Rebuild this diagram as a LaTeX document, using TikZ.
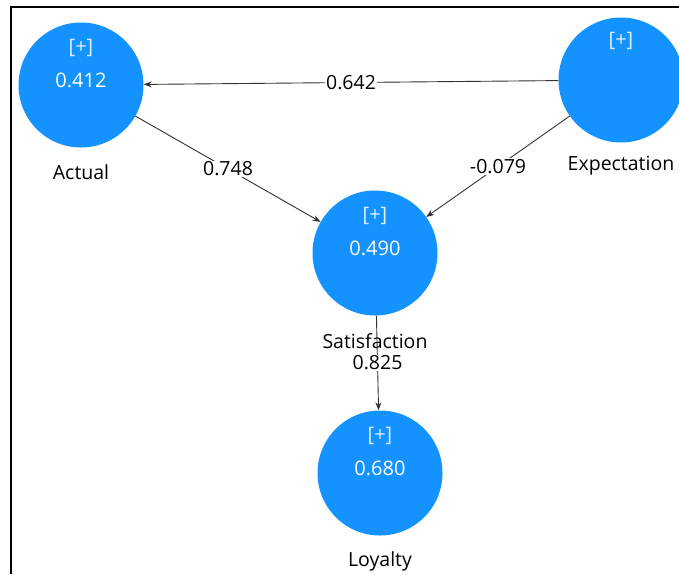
\documentclass[tikz,border=0pt]{standalone}
\usepackage{fontspec}
\setmainfont{Open Sans}
\usetikzlibrary{arrows.meta}
\definecolor{lvblue}{RGB}{20,146,255}
\begin{document}
\begin{tikzpicture}[x=1pt,y=-1pt,
  lv/.style={circle,fill=lvblue,minimum size=125pt,inner sep=0pt},
  plustxt/.style={text=white!85!lvblue,font=\fontsize{20}{23}\selectfont,inner sep=0pt},
  valtxt/.style={text=white,font=\fontsize{20}{23}\selectfont,inner sep=0pt},
  lvname/.style={font=\fontsize{19.5}{23}\selectfont,text=black,inner sep=0pt},
  link/.style={draw=black!80,line width=0.9pt,-{Stealth[length=8pt,width=6pt]}},
  coef/.style={fill=white,inner sep=1pt,font=\fontsize{19.5}{23}\selectfont}]
\useasboundingbox (0,0) rectangle (679,574);
\draw[line width=1.6pt] (11,574) -- (11,7) -- (679,7);
% latent variables
\node[lv] (act) at (81,85) {};
\node[lv] (exp) at (621,80) {};
\node[lv] (sat) at (375,253) {};
\node[lv] (loy) at (380,473) {};
% inner texts
\node[plustxt] (actp) at (81,48) {[+]};
\node[valtxt] (actv) at (81,80) {0.412};
\node[plustxt] (expp) at (621,41) {[+]};
\node[plustxt] (satp) at (375,216) {[+]};
\node[valtxt] (satv) at (375,248) {0.490};
\node[plustxt] (loyp) at (380,436) {[+]};
\node[valtxt] (loyv) at (380,468) {0.680};
% names
\node[lvname] (actn) at (81,172) {Actual};
\node[lvname] (expn) at (621,166) {Expectation};
\node[lvname] (satn) at (375,341) {Satisfaction};
\node[lvname] (loyn) at (380,561) {Loyalty};
% paths
\draw[link] (exp) -- node[coef] {0.642} (act);
\draw[link] (act) -- node[coef] {0.748} (sat);
\draw[link] (exp) -- node[coef] {-0.079} (sat);
\draw[link] (sat) -- node[coef] {0.825} (loy);
\end{tikzpicture}
\end{document}
